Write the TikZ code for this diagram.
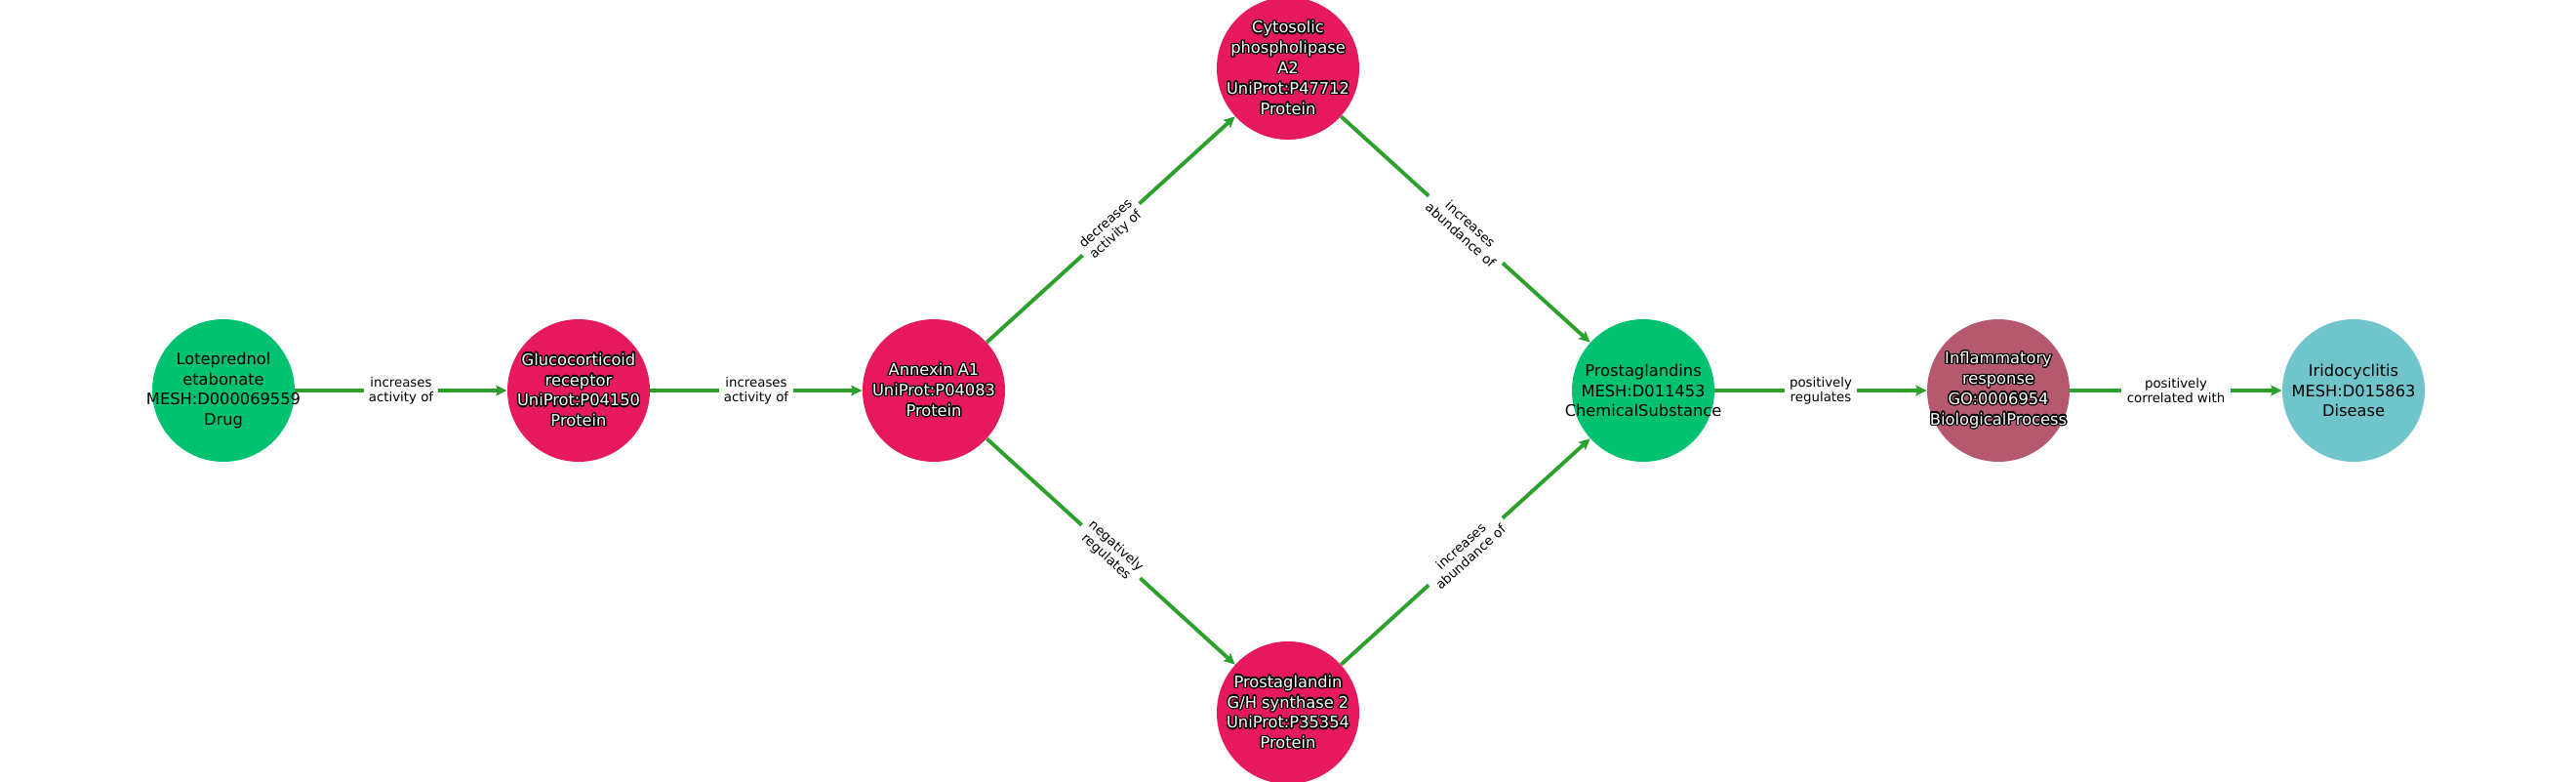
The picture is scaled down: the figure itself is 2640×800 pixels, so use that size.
\documentclass[tikz,border=0pt]{standalone}
\usepackage{fontspec}
\setmainfont{DejaVu Sans}
\usepackage{contour}
\contourlength{1pt}
\usetikzlibrary{arrows.meta}

\definecolor{drugGreen}{RGB}{0,194,112}
\definecolor{protPink}{RGB}{230,25,95}
\definecolor{procMauve}{RGB}{181,89,110}
\definecolor{disTeal}{RGB}{112,197,202}
\definecolor{relGreen}{RGB}{44,160,44}

% white text with a black outline
\newcommand{\wt}[1]{\textcolor{white}{\contour{black}{#1}}}

\begin{document}
\begin{tikzpicture}[x = 0.75pt, y = -0.75pt, % one unit per pixel
                > = {Stealth[length = 8.5pt, width = 8pt, inset = 1.5pt]}, % arrow head style
                node distance = 273pt, % distance between centres
                semithick % line style
            ]
            \useasboundingbox (0,0) rectangle (2640,800);

            \tikzstyle{ent}=[circle, inner sep = 0pt, minimum size = 109.5pt]
            \tikzstyle{txt}=[align = center, inner sep = 0pt,
            font = \fontsize{12.2}{15.6}\selectfont]
            \tikzstyle{rel}=[->, draw = relGreen, line width = 2.9pt]
            \tikzstyle{elab}=[fill = white, align = center, inner xsep = 4pt,
            inner ysep = 2pt, sloped, text = black,
            font = \fontsize{10}{11.3}\selectfont]

            \node[ent, fill = drugGreen, label = {[txt]center:{Loteprednol\\etabonate\\MESH:D000069559\\Drug}}] (1) at (229,400) {};
            \node[ent, fill = protPink, label = {[txt]center:{\wt{Glucocorticoid}\\\wt{receptor}\\\wt{UniProt:P04150}\\\wt{Protein}}}] (2) [right of=1] {};
            \node[ent, fill = protPink, label = {[txt]center:{\wt{Annexin A1}\\\wt{UniProt:P04083}\\\wt{Protein}}}] (3) [right of=2] {};
            \node[ent, fill = protPink, label = {[txt]center:{\wt{Cytosolic}\\\wt{phospholipase}\\\wt{A2}\\\wt{UniProt:P47712}\\\wt{Protein}}}] (4) at (1320,70) {};
            \node[ent, fill = protPink, label = {[txt]center:{\wt{Prostaglandin}\\\wt{G/H synthase 2}\\\wt{UniProt:P35354}\\\wt{Protein}}}] (5) at (1320,730) {};
            \node[ent, fill = drugGreen, label = {[txt]center:{Prostaglandins\\MESH:D011453\\ChemicalSubstance}}] (6) at (1684,400) {};
            \node[ent, fill = procMauve, label = {[txt]center:{\wt{Inflammatory}\\\wt{response}\\\wt{GO:0006954}\\\wt{BiologicalProcess}}}] (7) [right of=6] {};
            \node[ent, fill = disTeal, label = {[txt]center:{Iridocyclitis\\MESH:D015863\\Disease}}] (8) [right of=7] {};

            \path (1) edge[rel] node[elab] {increases\\activity of} (2);
            \path (2) edge[rel] node[elab] {increases\\activity of} (3);
            \path (3) edge[rel] node[elab] {decreases\\activity of} (4);
            \path (3) edge[rel] node[elab] {negatively\\regulates} (5);
            \path (4) edge[rel] node[elab] {increases\\abundance of} (6);
            \path (5) edge[rel] node[elab] {increases\\abundance of} (6);
            \path (6) edge[rel] node[elab] {positively\\regulates} (7);
            \path (7) edge[rel] node[elab] {positively\\correlated with} (8);
        \end{tikzpicture}
\end{document}
